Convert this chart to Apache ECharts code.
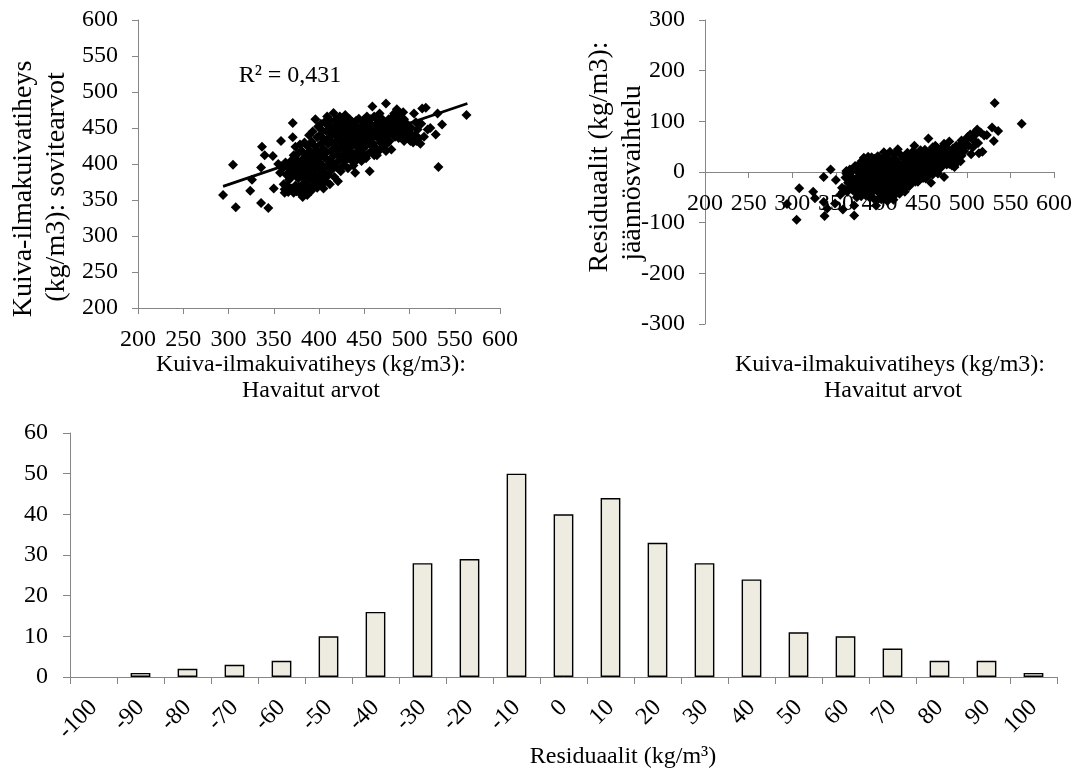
<!DOCTYPE html>
<html>
<head>
<meta charset="utf-8">
<script src="https://cdn.jsdelivr.net/npm/echarts@6/dist/echarts.min.js"></script>
<style>
  html, body { margin: 0; padding: 0; background: #ffffff; }
  #chart { width: 1090px; height: 778px; }
</style>
</head>
<body>
<div id="chart"></div>
<script>
// Air-dry density: observed value vs model-fitted value (kg/m3), one pair per sample
const observedFitted = [
  [294,357],[305,399],[308,340],[324,363],[326,378],[336,346],[336,395],[337,424],[340,412],
  [344,339],[349,411],[350,366],[358,432],[358,397],[371,457],[371,437],
  [355,400],[357,388],[360,394],[361,372],[362,365],[362,360],[363,402],[364,385],[365,370],[365,398],
  [366,361],[367,378],[368,392],[369,404],[370,366],[370,383],[371,399],[372,360],[372,412],[373,387],
  [374,370],[374,424],[375,395],[375,362],
  [376,405],[377,380],[377,415],[378,368],[378,393],[379,427],[380,358],[380,400],[381,384],[381,418],
  [382,354],[382,372],[383,408],[383,391],[384,430],[384,365],[385,398],[385,378],
  [386,413],[386,388],[387,357],[387,425],[388,402],[388,370],[389,440],[389,383],[390,396],[390,418],
  [391,362],[391,408],[392,431],[392,378],[393,391],[393,445],[394,415],[394,368],[395,402],[395,385],
  [396,462],[396,424],[396,376],[397,410],[397,395],[398,437],[398,367],[399,452],[399,383],[399,418],
  [400,403],[400,372],[401,440],[401,392],[402,428],[402,456],[403,381],[403,412],[404,398],[404,446],
  [405,366],[405,421],
  [406,434],[406,388],[406,458],[407,408],[407,376],[408,446],[408,416],[409,397],[409,466],[410,428],
  [410,384],[411,452],[411,405],[412,438],[412,372],[413,418],[413,460],[414,392],[414,444],[415,410],[415,430],
  [416,471],[416,400],[417,452],[417,382],[418,424],[418,440],[419,462],[419,396],[420,414],[420,448],
  [421,376],[421,434],[422,456],[422,405],[423,422],[423,466],[424,442],[424,390],[425,428],[425,454],
  [426,412],[426,462],[427,438],[427,398],[428,450],[428,420],[429,468],[429,404],[430,432],[430,446],
  [431,458],[431,414],[432,426],[432,394],[433,452],[433,440],[434,418],[434,462],[435,434],[435,406],
  [436,448],[436,424],[437,458],[437,412],[438,436],[438,398],[439,452],[439,428],[440,388],[440,444],
  [441,416],[441,460],[442,434],[442,406],[443,450],[443,424],[444,440],[444,463],[445,412],[445,430],
  [446,452],[446,420],[447,440],[447,404],[448,458],[448,430],[449,446],[449,414],[450,436],[450,462],
  [451,424],[451,452],[452,442],[452,408],[453,466],[453,432],[454,448],[454,414],[455,438],[455,456],
  [456,390],[456,428],[457,446],[457,462],[458,418],[458,436],[459,480],[459,452],[460,428],[460,444],
  [461,466],[461,412],[462,440],[462,454],[463,422],[464,412],[464,446],[465,436],[465,462],
  [466,418],[466,450],[467,440],[467,470],[468,430],[468,456],[469,444],[470,462],[470,424],[471,448],
  [472,436],[472,458],[473,444],[474,484],[474,418],[475,428],[475,452],
  [476,440],[477,462],[478,432],[478,448],[479,456],[480,420],[480,464],[481,444],[482,452],[483,470],
  [484,438],[484,458],[485,466],[486,476],[486,446],[487,452],[488,436],[488,460],[489,448],[490,470],
  [491,456],[492,440],[493,472],[494,462],[494,432],[495,448],[496,438],[497,456],[499,436],[500,444],
  [501,432],[502,450],[504,430],[505,470],[506,440],[507,458],[508,432],[509,448],[510,436],[512,428],
  [513,456],[514,477],[516,438],[518,478],[520,448],
  [523,450],[529,441],[531,470],[532,396],[536,455],[563,468]
];

// Linear trend of fitted on observed, drawn between its end points
const trendLine = [[294, 369], [564, 484]];
const rSquaredLabel = 'R² = 0,431';

// Residual histogram: bin labels (kg/m3) and counts
const residualBins = ['-100','-90','-80','-70','-60','-50','-40','-30','-20','-10','0',
                      '10','20','30','40','50','60','70','80','90','100'];
const residualCounts = [0,1,2,3,4,10,16,28,29,50,40,44,33,28,24,11,10,7,4,4,1];

// Residual = observed - fitted
const residualPoints = observedFitted.map(([obs, fit]) => [obs, obs - fit]);
// Empty bins are left undrawn
const residualBars = residualCounts.map(v => (v === 0 ? null : v));

const FONT = '"Liberation Serif", "Times New Roman", serif';
const AXIS_GRAY = '#868686';

function valueAxis(extra) {
  return Object.assign({
    type: 'value',
    axisLine: { show: true, lineStyle: { color: AXIS_GRAY, width: 1 } },
    axisTick: { show: true, inside: false, length: 6, lineStyle: { color: AXIS_GRAY, width: 1 } },
    axisLabel: { color: '#000', fontFamily: FONT, fontSize: 24, margin: 20 },
    splitLine: { show: false }
  }, extra);
}

function textEl(text, x, y, size, rotation) {
  return {
    type: 'text', x: x, y: y, rotation: rotation || 0,
    style: {
      text: text, fill: '#000', font: size + 'px ' + FONT,
      align: 'center', verticalAlign: 'middle',
      textAlign: 'center', textVerticalAlign: 'middle'
    }
  };
}

const chart = echarts.init(document.getElementById('chart'), null, { renderer: 'canvas' });

// Right panel: grid spans -300..300 over 304 px, so the zero line sits 152 px above the bottom
const RIGHT_GRID = { left: 705, top: 20, width: 349, height: 304 };
const zeroOffset = -RIGHT_GRID.height / 2;

const markerStyle = { color: '#000', opacity: 1 };

chart.setOption({
  animation: false,
  backgroundColor: '#ffffff',
  textStyle: { fontFamily: FONT },
  grid: [
    { left: 138, top: 20, width: 362, height: 288 },
    RIGHT_GRID,
    { left: 70, top: 433, width: 987, height: 244 }
  ],
  xAxis: [
    valueAxis({ gridIndex: 0, min: 200, max: 600, interval: 50 }),
    valueAxis({ gridIndex: 1, min: 200, max: 600, interval: 50, offset: zeroOffset,
      axisLine: { show: true, onZero: false, lineStyle: { color: AXIS_GRAY, width: 1 } } }),
    {
      type: 'category', gridIndex: 2, data: residualBins, boundaryGap: true,
      axisLine: { show: true, lineStyle: { color: AXIS_GRAY, width: 1 } },
      axisTick: { show: true, length: 7, alignWithLabel: false, lineStyle: { color: AXIS_GRAY } },
      axisLabel: { color: '#000', fontFamily: FONT, fontSize: 24, rotate: 45, interval: 0, margin: 27 }
    }
  ],
  yAxis: [
    valueAxis({ gridIndex: 0, min: 200, max: 600, interval: 50 }),
    valueAxis({ gridIndex: 1, min: -300, max: 300, interval: 100 }),
    valueAxis({ gridIndex: 2, min: 0, max: 60, interval: 10,
      axisTick: { show: true, length: 7, lineStyle: { color: AXIS_GRAY } },
      axisLabel: { color: '#000', fontFamily: FONT, fontSize: 24, margin: 22 } })
  ],
  series: [
    {
      type: 'scatter', xAxisIndex: 0, yAxisIndex: 0, data: observedFitted,
      symbol: 'diamond', symbolSize: 10, itemStyle: markerStyle, silent: true
    },
    {
      type: 'line', xAxisIndex: 0, yAxisIndex: 0, data: trendLine,
      symbol: 'none', lineStyle: { color: '#000', width: 2.8, opacity: 1 }, silent: true
    },
    {
      type: 'scatter', xAxisIndex: 1, yAxisIndex: 1, data: residualPoints,
      symbol: 'diamond', symbolSize: 10, itemStyle: markerStyle, silent: true
    },
    {
      type: 'bar', xAxisIndex: 2, yAxisIndex: 2, data: residualBars,
      barWidth: '42%',
      itemStyle: { color: '#EEECE1', borderColor: '#000', borderWidth: 1.4, opacity: 1 }, silent: true
    }
  ],
  graphic: [
    textEl(rSquaredLabel, 290, 76, 24),
    textEl('Kuiva-ilmakuivatiheys', 24, 189, 28, Math.PI / 2),
    textEl('(kg/m3): sovitearvot', 57, 187, 28, Math.PI / 2),
    textEl('Kuiva-ilmakuivatiheys (kg/m3):', 311, 365, 24),
    textEl('Havaitut arvot', 311, 391, 24),
    textEl('Residuaalit (kg/m3):', 600, 157, 28, Math.PI / 2),
    textEl('jäännösvaihtelu', 633, 173, 28, Math.PI / 2),
    textEl('Kuiva-ilmakuivatiheys (kg/m3):', 890, 365, 24),
    textEl('Havaitut arvot', 893, 391, 24),
    textEl('Residuaalit (kg/m³)', 623, 757, 24)
  ]
});
</script>
</body>
</html>
